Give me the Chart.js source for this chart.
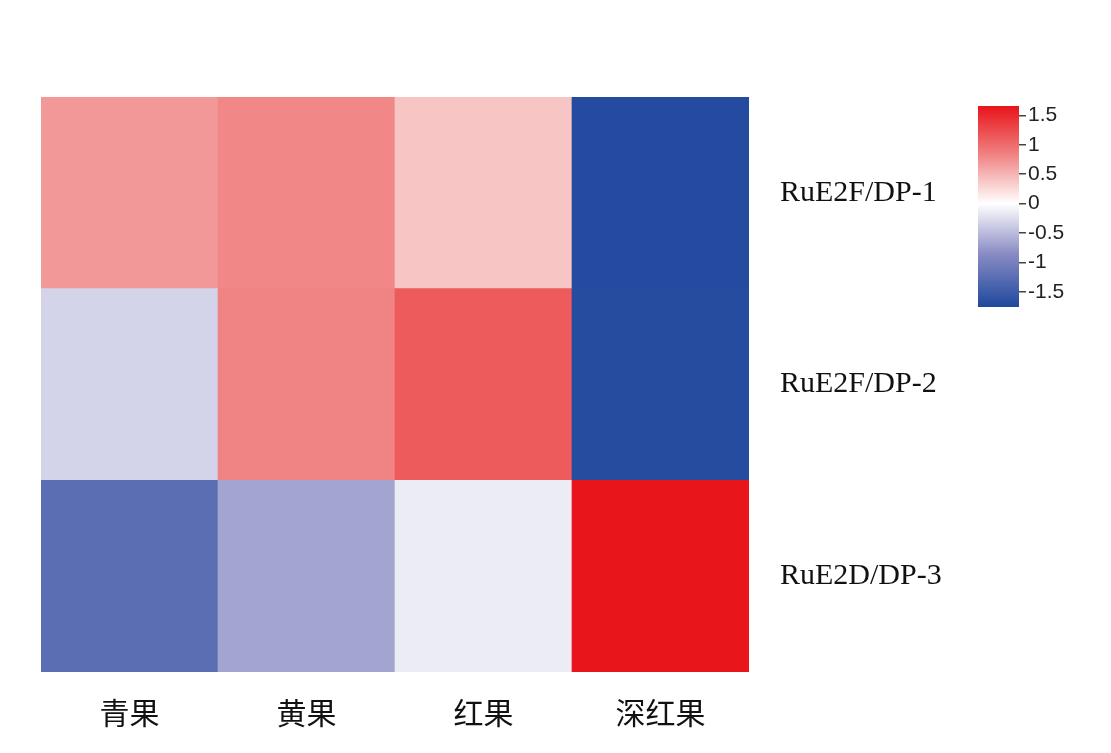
<!DOCTYPE html>
<html>
<head>
<meta charset="utf-8">
<script src="https://cdn.jsdelivr.net/npm/chart.js@4.4.1/dist/chart.umd.min.js"></script>
<style>
  html, body { margin: 0; padding: 0; background: #fff; }
  #wrap { position: relative; width: 1111px; height: 753px; }
  #heat { position: absolute; left: 0; top: 0; }
  #bar { position: absolute; left: 960px; top: 90px; }
</style>
</head>
<body>
<div id="wrap">
  <canvas id="heat" width="1111" height="753"></canvas>
  <canvas id="bar" width="151" height="240"></canvas>
</div>
<script>
// data
var categories = ["青果", "黄果", "红果", "深红果"];
var rowLabels = ["RuE2F/DP-1", "RuE2F/DP-2", "RuE2D/DP-3"];
var rowDP1 = [0.69, 0.80, 0.39, -1.72];
var rowDP2 = [-0.32, 0.83, 1.13, -1.70];
var rowDP3 = [-1.25, -0.67, -0.14, 1.65];
var rows = [rowDP1, rowDP2, rowDP3];
var cbTicks = [-1.5, -1, -0.5, 0, 0.5, 1, 1.5];
var cbMin = -1.76, cbMax = 1.66;

// colour scale (blue - white - red)
var stops = [
  [-1.76, [31, 72, 157]],
  [-0.85, [138, 140, 196]],
  [0, [255, 255, 255]],
  [0.85, [240, 128, 128]],
  [1.66, [232, 20, 26]]
];

function colorFor(v) {
  if (v <= stops[0][0]) return rgb(stops[0][1]);
  for (var i = 1; i < stops.length; i++) {
    if (v <= stops[i][0]) {
      var a = stops[i - 1], b = stops[i];
      var t = (v - a[0]) / (b[0] - a[0]);
      return rgb([0, 1, 2].map(function (k) { return a[1][k] + (b[1][k] - a[1][k]) * t; }));
    }
  }
  return rgb(stops[stops.length - 1][1]);
}
function rgb(c) {
  return 'rgb(' + Math.round(c[0]) + ',' + Math.round(c[1]) + ',' + Math.round(c[2]) + ')';
}

// heatmap: stacked bars, bottom row first
var datasets = [];
for (var r = rows.length - 1; r >= 0; r--) {
  datasets.push({
    label: rowLabels[r],
    data: rows[r].map(function () { return 1; }),
    backgroundColor: rows[r].map(colorFor),
    borderWidth: 0,
    barPercentage: 1,
    categoryPercentage: 1
  });
}

new Chart(document.getElementById("heat"), {
  type: 'bar',
  data: { labels: categories, datasets: datasets },
  options: {
    responsive: false,
    animation: false,
    layout: { padding: { left: 41, top: 97, right: 0, bottom: 0 } },
    plugins: { legend: { display: false }, tooltip: { enabled: false } },
    scales: {
      x: {
        stacked: true,
        grid: { display: false },
        border: { display: false },
        ticks: {
          padding: 15,
          color: '#111',
          font: { family: '"Noto Sans CJK SC"', size: 30 }
        },
        afterFit: function (scale) { scale.height = 81; }
      },
      y: {
        stacked: true,
        position: 'right',
        min: 0,
        max: 3,
        grid: { display: false },
        border: { display: false },
        afterBuildTicks: function (scale) {
          scale.ticks = [{ value: 0.5 }, { value: 1.5 }, { value: 2.5 }];
        },
        ticks: {
          padding: 23,
          color: '#111',
          font: { family: '"Liberation Serif"', size: 30 },
          callback: function (v) { return rowLabels[2 - Math.floor(v)]; }
        },
        afterFit: function (scale) { scale.width = 362; }
      }
    }
  }
});

// colour bar
new Chart(document.getElementById("bar"), {
  type: 'bar',
  data: {
    labels: [''],
    datasets: [{
      data: [[cbMin, cbMax]],
      borderWidth: 0,
      barPercentage: 1,
      categoryPercentage: 1,
      backgroundColor: function (ctx) {
        var chart = ctx.chart;
        if (!chart.chartArea) return '#fff';
        var ys = chart.scales.y;
        var g = chart.ctx.createLinearGradient(0, ys.getPixelForValue(cbMin), 0, ys.getPixelForValue(cbMax));
        stops.forEach(function (s) {
          g.addColorStop((s[0] - cbMin) / (cbMax - cbMin), rgb(s[1]));
        });
        return g;
      }
    }]
  },
  options: {
    responsive: false,
    animation: false,
    layout: { padding: { left: 18, top: 16, right: 0, bottom: 23 } },
    plugins: { legend: { display: false }, tooltip: { enabled: false } },
    scales: {
      x: { display: false },
      y: {
        position: 'right',
        min: cbMin,
        max: cbMax,
        border: { display: false },
        grid: { drawOnChartArea: false, drawTicks: true, tickLength: 7, color: '#444', lineWidth: 1.5 },
        afterBuildTicks: function (scale) {
          scale.ticks = cbTicks.map(function (v) { return { value: v }; });
        },
        ticks: {
          padding: 2,
          color: '#222',
          font: { family: '"Liberation Sans"', size: 21 },
          callback: function (v) { return String(v); }
        },
        afterFit: function (scale) { scale.width = 92; }
      }
    }
  }
});
</script>
</body>
</html>
